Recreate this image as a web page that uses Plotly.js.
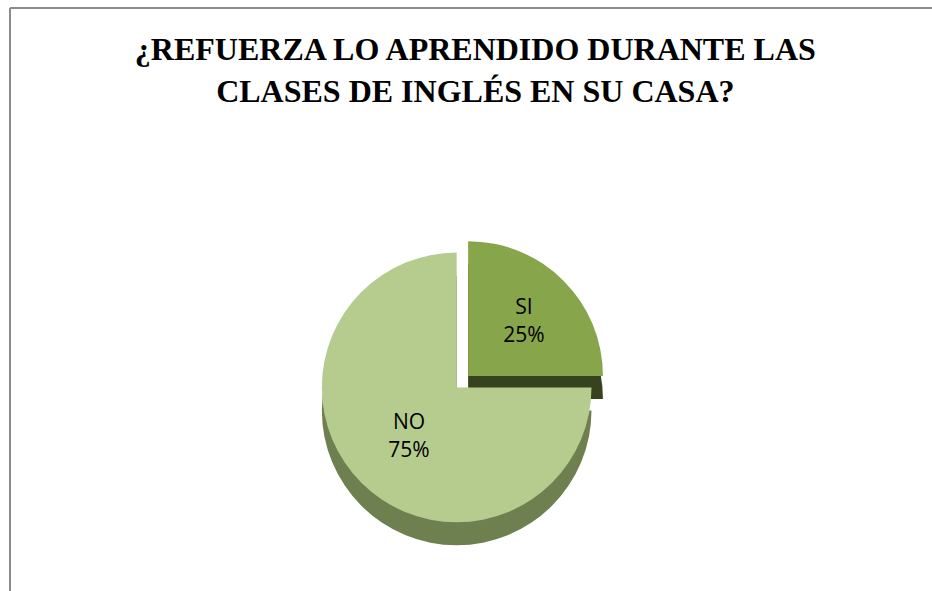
<!DOCTYPE html>
<html>
<head>
<meta charset="utf-8">
<script src="https://cdn.plot.ly/plotly-3.0.1.min.js"></script>
<style>html,body{margin:0;padding:0;background:#fff;}#chart{width:932px;height:591px;}</style>
</head>
<body>
<div id="chart"></div>
<script>
const categories = ["SI", "NO"];
const values = [25, 75];
const topColors = ["#87A54B", "#B6CC8F"];
const sideColors = ["#37431F", "#6F8050"];
const titleText = "¿REFUERZA LO APRENDIDO DURANTE LAS<br>CLASES DE INGLÉS EN SU CASA?";

const pullSI = [0.12, 0];

const sideTrace = {
  type: "pie",
  labels: categories,
  values: values,
  sort: false,
  direction: "clockwise",
  rotation: 0,
  pull: pullSI,
  marker: {colors: sideColors, line: {width: 0}},
  textinfo: "none",
  hoverinfo: "skip",
  showlegend: false,
  domain: {x: [0.2, 0.78], y: [0.05, 0.561]}
};
const topTrace = {
  type: "pie",
  labels: categories,
  values: values,
  sort: false,
  direction: "clockwise",
  rotation: 0,
  pull: pullSI,
  marker: {colors: topColors, line: {width: 0}},
  textinfo: "label+percent",
  texttemplate: "%{label}<br>%{percent:.0%}",
  textposition: "inside",
  insidetextorientation: "horizontal",
  textfont: {family: "Open Sans", size: 21, color: "#000"},
  showlegend: false,
  domain: {x: [0.2, 0.78], y: [0.089, 0.6]}
};

const layout = {
  width: 932,
  height: 591,
  margin: {l: 0, r: 0, t: 0, b: 0},
  paper_bgcolor: "#fff",
  showlegend: false,
  title: {
    text: titleText,
    font: {family: "Liberation Serif", size: 32, color: "#000", weight: "bold"},
    x: 0.51, xanchor: "center",
    y: 0.898, yref: "container", yanchor: "top"
  },
  shapes: [
    {type: "line", xref: "paper", yref: "paper", x0: 10/932, x1: 10/932, y0: -0.01, y1: 1 - 8/591, line: {color: "#8C8C8C", width: 2}},
    {type: "line", xref: "paper", yref: "paper", x0: 10/932, x1: 1.01, y0: 1 - 8/591, y1: 1 - 8/591, line: {color: "#8C8C8C", width: 2}}
  ]
};

Plotly.newPlot("chart", [sideTrace, topTrace], layout, {displayModeBar: false, staticPlot: true});
</script>
</body>
</html>
